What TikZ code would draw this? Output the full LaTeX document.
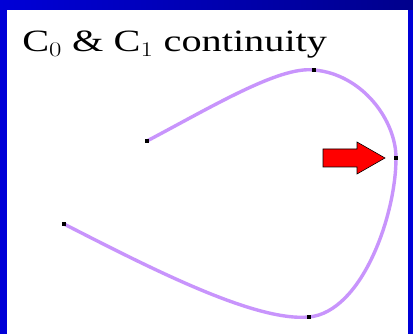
\documentclass[tikz,border=0pt]{standalone}
\usepackage{fontspec}
\setmainfont{Liberation Serif}
\begin{document}
\begin{tikzpicture}[x=1pt,y=-1pt,
  curve/.style={draw=curvecol,line width=3.4pt},
  pt/.style={fill=black,inner sep=0pt,minimum size=4.5pt,rectangle},
]
\definecolor{curvecol}{RGB}{200,148,252}
\definecolor{bandblue}{RGB}{0,0,215}
\definecolor{banddark}{RGB}{0,0,140}
\useasboundingbox (0,0) rectangle (413,334);
\fill[bandblue] (0,0) rectangle (413,334);
\shade[left color=bandblue,right color=banddark] (0,0) rectangle (413,10);
\fill[white] (7,10) rectangle (408,334);
\node[anchor=base west,inner sep=0pt,xscale=1.3,font=\fontsize{31}{31}\selectfont] (title) at (22,52) {C$_0$ \& C$_1$ continuity};
\coordinate (p1) at (147,141);
\coordinate (p2) at (314,70);
\coordinate (p3) at (396,158);
\coordinate (p4) at (309,317);
\coordinate (p5) at (64,224);
\draw[curve] (p1) .. controls (215,105) and (280,66) .. (p2);
\draw[curve] (p2) .. controls (362,74) and (396,120) .. (p3);
\draw[curve] (p3) .. controls (396,215) and (362,312) .. (p4);
\draw[curve] (p4) .. controls (255,322) and (150,268) .. (p5);
\foreach \p in {p1,p2,p3,p4,p5} \node[pt] at (\p) {};
\draw[fill=red,line width=0.6pt] (323,149) -- (357,149) -- (357,142) -- (385,158) -- (357,174) -- (357,167) -- (323,167) -- cycle;
\end{tikzpicture}
\end{document}
